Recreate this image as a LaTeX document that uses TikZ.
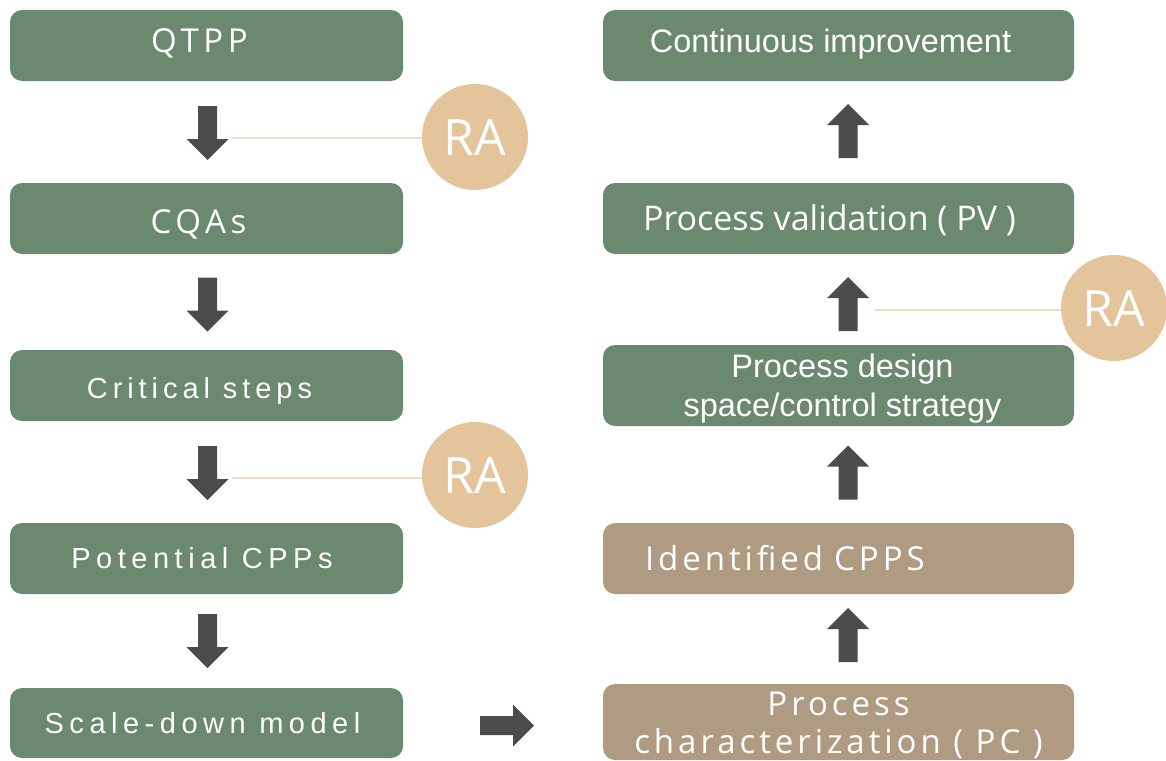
\documentclass[tikz,border=0pt]{standalone}
\usepackage{fontspec}
\usetikzlibrary{calc}
\setmainfont{Liberation Sans}
\newfontfamily\humsans{Open Sans}
\newfontfamily\humsanstag{Open Sans}[LetterSpace=14]
\newfontfamily\humsansls{Open Sans}[LetterSpace=12]
\newfontfamily\grotls{Liberation Sans}[LetterSpace=19]
\newfontfamily\grotlsn{Liberation Sans}[LetterSpace=17]

\definecolor{boxgreen}{HTML}{6A896E}
\definecolor{boxtan}{HTML}{AE9B82}
\definecolor{racirc}{HTML}{E4C49B}
\definecolor{raline}{HTML}{F0DCC4}
\definecolor{arrowgray}{HTML}{4B4C4E}

\tikzset{
  stagebox/.style={rectangle, rounded corners=12pt, fill=boxgreen, text=white,
    minimum height=71pt, inner sep=0pt, text depth=0pt},
  leftbox/.style={stagebox, minimum width=393pt},
  rightbox/.style={stagebox, minimum width=471pt},
  tanbox/.style={fill=boxtan},
  ftag/.style={font=\humsanstag\fontsize{33}{38}\selectfont, text height=23.5pt},
  fgrot/.style={font=\grotls\fontsize{29}{34}\selectfont, text height=20.8pt},
  fhum/.style={font=\humsansls\fontsize{33}{38}\selectfont, text height=23.5pt},
  fhumplain/.style={font=\humsans\fontsize{34}{40}\selectfont, text height=24.5pt},
  fplain/.style={font=\fontsize{32.5}{39}\selectfont, text height=23.3pt},
  racircle/.style={circle, fill=racirc, minimum size=106pt, inner sep=0pt,
    text=white, font=\humsans\fontsize{50}{56}\selectfont, text height=36pt, text depth=0pt},
  raconn/.style={draw=raline, line width=1.3pt},
  blockarr/.pic={\fill[arrowgray] (-27,-9.5) -- (6,-9.5) -- (6,-21) -- (27,0)
    -- (6,21) -- (6,9.5) -- (-27,9.5) -- cycle;}
}

\begin{document}
\begin{tikzpicture}[x=1pt, y=-1pt]
\useasboundingbox (0,0) rectangle (1166,760);

% left column: from target profile to the scale-down model
\node[leftbox, ftag, text depth=9pt] (qtpp) at (206.5,45.5) {QTPP\kern14pt};
\node[leftbox, ftag, text height=29pt] (cqas) at (206.5,218.5) {CQAs\kern16pt};
\node[leftbox, fgrot, font=\grotlsn\fontsize{29}{34}\selectfont, text height=25pt] (steps) at (206.5,385.5)
  {Critical steps\kern14pt};
\node[leftbox, fgrot] (pcpp) at (206.5,558.5) {Potential CPPs\kern9pt};
\node[leftbox, fgrot, minimum height=70pt] (sdm) at (206.5,723) {Scale-down model\kern8pt};

% right column: characterization up to continuous improvement
\node[rightbox, fplain, text depth=10pt] (ci) at (838.5,45.5)
  {Continuous improvement\kern16pt};
\node[rightbox, fhumplain] (pv) at (838.5,218.5)
  {Process validation ( PV )\kern18pt};
\node[rightbox, fplain, minimum height=81pt, align=center, text height=62pt, text depth=0pt] (pd) at (838.5,385.5)
  {\hspace*{8pt}Process design\\\hspace*{8pt}space/control strategy};
\node[rightbox, tanbox, fhum, text width=387pt, align=left, inner xsep=42pt] (icpp) at (838.5,558.5)
  {Identified CPPS};
\node[rightbox, tanbox, fhum, minimum height=76pt, align=center, text height=62pt, text depth=0pt] (pc) at (838.5,722)
  {Process\\characterization ( PC )};

% flow arrows
\pic[rotate=-90] at ($(qtpp.south)!0.5!(cqas.north)+(1,1)$) {blockarr};
\pic[rotate=-90] at ($(cqas.south)!0.5!(steps.north)+(1,2.5)$) {blockarr};
\pic[rotate=-90] at ($(steps.south)!0.5!(pcpp.north)+(1,1)$) {blockarr};
\pic[rotate=-90] at ($(pcpp.south)!0.5!(sdm.north)+(1,0)$) {blockarr};
\pic at ($(sdm.east)!0.5!(pc.west)+(4,3)$) {blockarr};
\pic[rotate=90] at ($(pc.north)!0.5!(icpp.south)+(9.5,-4)$) {blockarr};
\pic[rotate=90] at ($(icpp.north)!0.5!(pd.south)+(9.5,-2)$) {blockarr};
\pic[rotate=90] at ($(pd.north)!0.5!(pv.south)+(9.5,4.5)$) {blockarr};
\pic[rotate=90] at ($(pv.north)!0.5!(ci.south)+(9.5,-1)$) {blockarr};

% risk assessment markers
\node[racircle] (ra1) at (475,137) {RA};
\node[racircle] (ra2) at (475,475) {RA};
\node[racircle] (ra3) at (1114,308) {RA};
\coordinate (ra1s) at (232,138);
\coordinate (ra2s) at (232,478);
\coordinate (ra3s) at (875,310);
\draw[raconn] (ra1s) -- (ra1s -| ra1.west);
\draw[raconn] (ra2s) -- (ra2s -| ra2.west);
\draw[raconn] (ra3s) -- (ra3s -| ra3.west);
\end{tikzpicture}
\end{document}
